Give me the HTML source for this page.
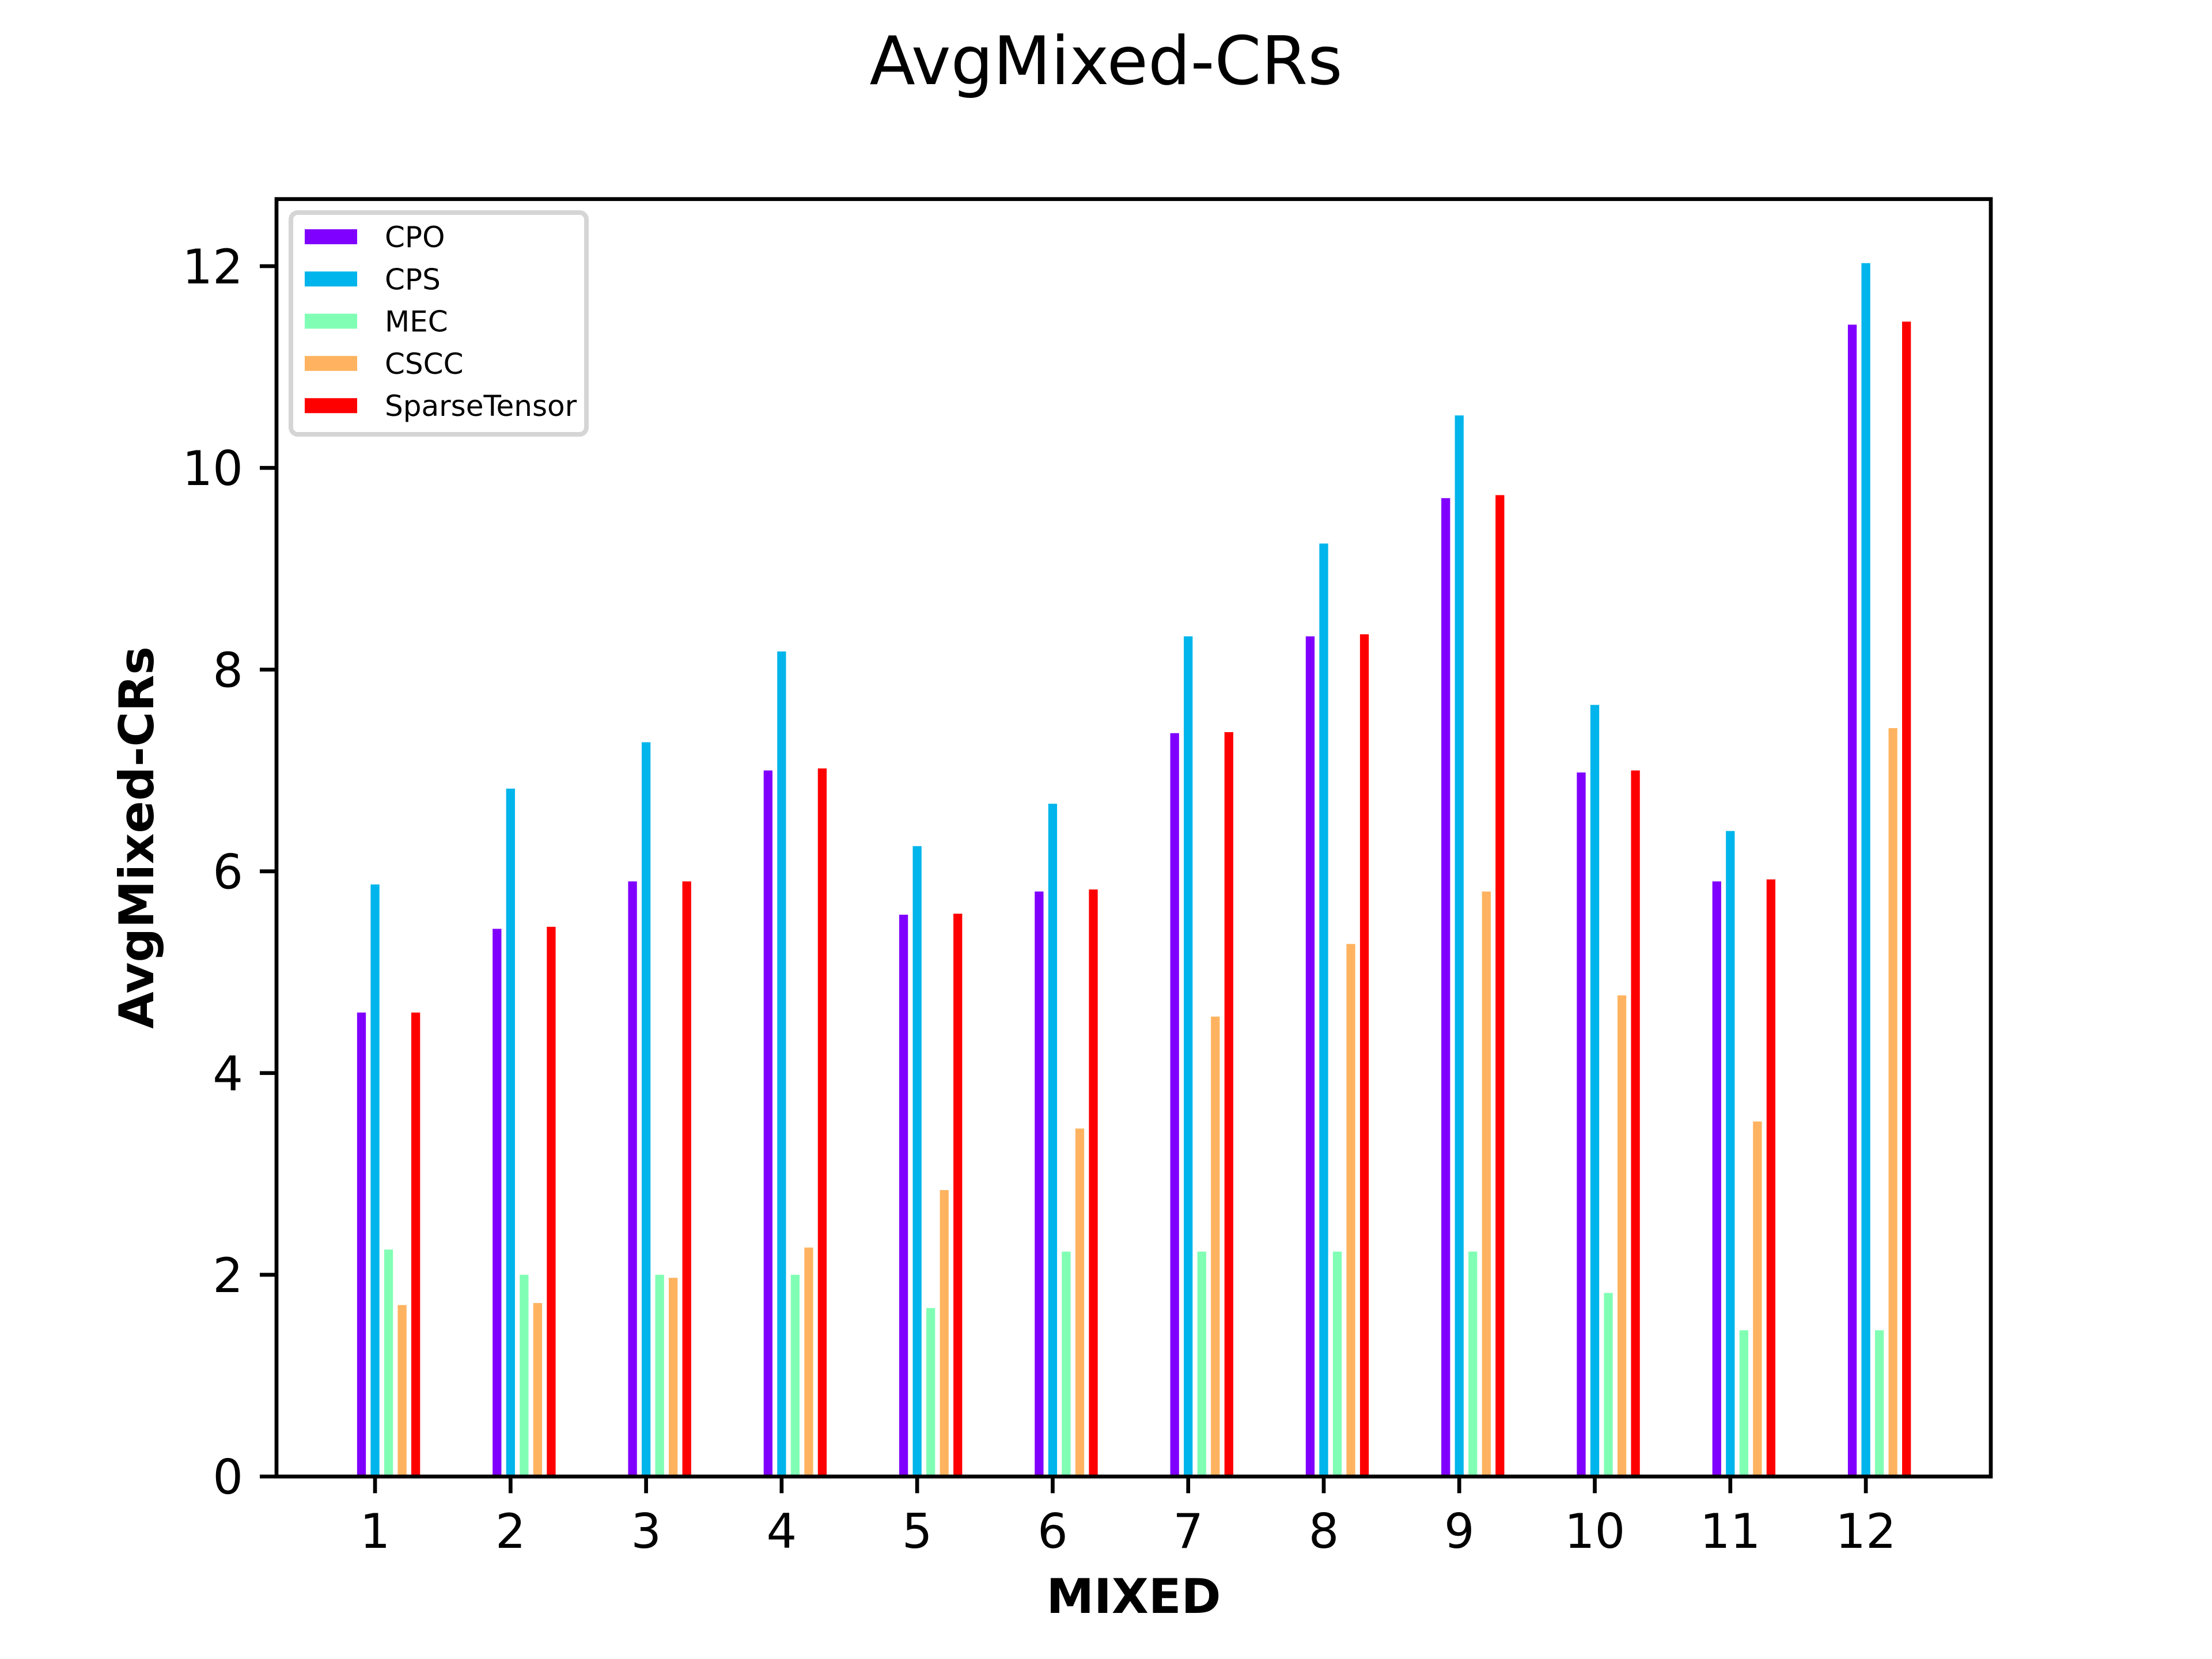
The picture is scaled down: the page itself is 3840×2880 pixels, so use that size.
<!DOCTYPE html>
<html><head><meta charset="utf-8"><style>
html,body{margin:0;padding:0;background:#fff;}
svg{display:block;font-family:"DejaVu Sans","Liberation Sans",sans-serif;}
</style></head><body>
<svg id="chart" width="3840" height="2880" viewBox="0 0 3840 2880" xmlns="http://www.w3.org/2000/svg">
<rect x="0" y="0" width="3840" height="2880" fill="#fff"/>
<text x="1920" y="146" font-size="116" text-anchor="middle">AvgMixed-CRs</text>
<g id="bars"></g>
<g id="xticks"></g>
<g id="yticks"></g>
<rect x="480" y="345.6" width="2976" height="2217.6" fill="none" stroke="#000" stroke-width="6.7"/>
<text x="1968" y="2800" font-size="83" font-weight="bold" text-anchor="middle">MIXED</text>
<text transform="translate(266,1454) rotate(-90)" font-size="83" font-weight="bold" text-anchor="middle">AvgMixed-CRs</text>
<g id="legend">
<rect x="505" y="369" width="513" height="385" rx="12" fill="#fff" fill-opacity="0.8" stroke="#d5d5d5" stroke-width="8"/>
</g>
</svg>
<script>
const categories = ["1","2","3","4","5","6","7","8","9","10","11","12"];
const seriesNames = ["CPO","CPS","MEC","CSCC","SparseTensor"];
const cpo = [4.6,5.43,5.9,7.0,5.57,5.8,7.37,8.33,9.7,6.98,5.9,11.42];
const cps = [5.87,6.82,7.28,8.18,6.25,6.67,8.33,9.25,10.52,7.65,6.4,12.03];
const mec = [2.25,2.0,2.0,2.0,1.67,2.23,2.23,2.23,2.23,1.82,1.45,1.45];
const cscc = [1.7,1.72,1.97,2.27,2.84,3.45,4.56,5.28,5.8,4.77,3.52,7.42];
const sparseTensor = [4.6,5.45,5.9,7.02,5.58,5.82,7.38,8.35,9.73,7.0,5.92,11.45];
const yTicks = [0,2,4,6,8,10,12];

const NS = "http://www.w3.org/2000/svg";
const colors = ["#8000ff","#00b5eb","#80ffb4","#ffb360","#ff0000"];
const series = [cpo,cps,mec,cscc,sparseTensor];
const X0=480, X1=3456, Y0=2563.2, Y1=345.6;
const xmin=0.273, xmax=12.922, ymax=12.665;
function xs(v){return X0+(v-xmin)/(xmax-xmin)*(X1-X0);}
function ys(v){return Y0-v/ymax*(Y0-Y1);}
function mk(tag,attrs,parent){const e=document.createElementNS(NS,tag);for(const k in attrs)e.setAttribute(k,attrs[k]);parent.appendChild(e);return e;}

const barsG=document.getElementById('bars');
const barW=0.065;
series.forEach((vals,si)=>{
  vals.forEach((v,ci)=>{
    const c=ci+1+(si-1)*0.1;
    const r=mk('rect',{x:xs(c-barW/2),y:ys(v),width:xs(c+barW/2)-xs(c-barW/2),height:ys(0)-ys(v),fill:colors[si]},barsG);
    
    
  });
});

const xg=document.getElementById('xticks');
categories.forEach((lab,i)=>{
  const x=xs(i+1);
  const t=mk('line',{x1:x,x2:x,y1:Y0,y2:Y0+29,stroke:'#000','stroke-width':6.7},xg);
  
  
  const tx=mk('text',{x:x,y:2687,'font-size':83,'text-anchor':'middle'},xg);
  tx.textContent=lab;
  
  
});
const yg=document.getElementById('yticks');
yTicks.forEach(v=>{
  const y=ys(v);
  const t=mk('line',{x1:X0-29,x2:X0,y1:y,y2:y,stroke:'#000','stroke-width':6.7},yg);
  
  
  const tx=mk('text',{x:422,y:y+30,'font-size':83,'text-anchor':'end'},yg);
  tx.textContent=String(v);
  
  
});

const lg=document.getElementById('legend');
seriesNames.forEach((n,i)=>{
  const cy=411+i*73.3;
  const p=mk('rect',{x:529,y:cy-13,width:91,height:26,fill:colors[i]},lg);
  
  
  const t=mk('text',{x:668,y:cy+18,'font-size':50},lg);
  t.textContent=n;
  
  
});
</script>
</body></html>
